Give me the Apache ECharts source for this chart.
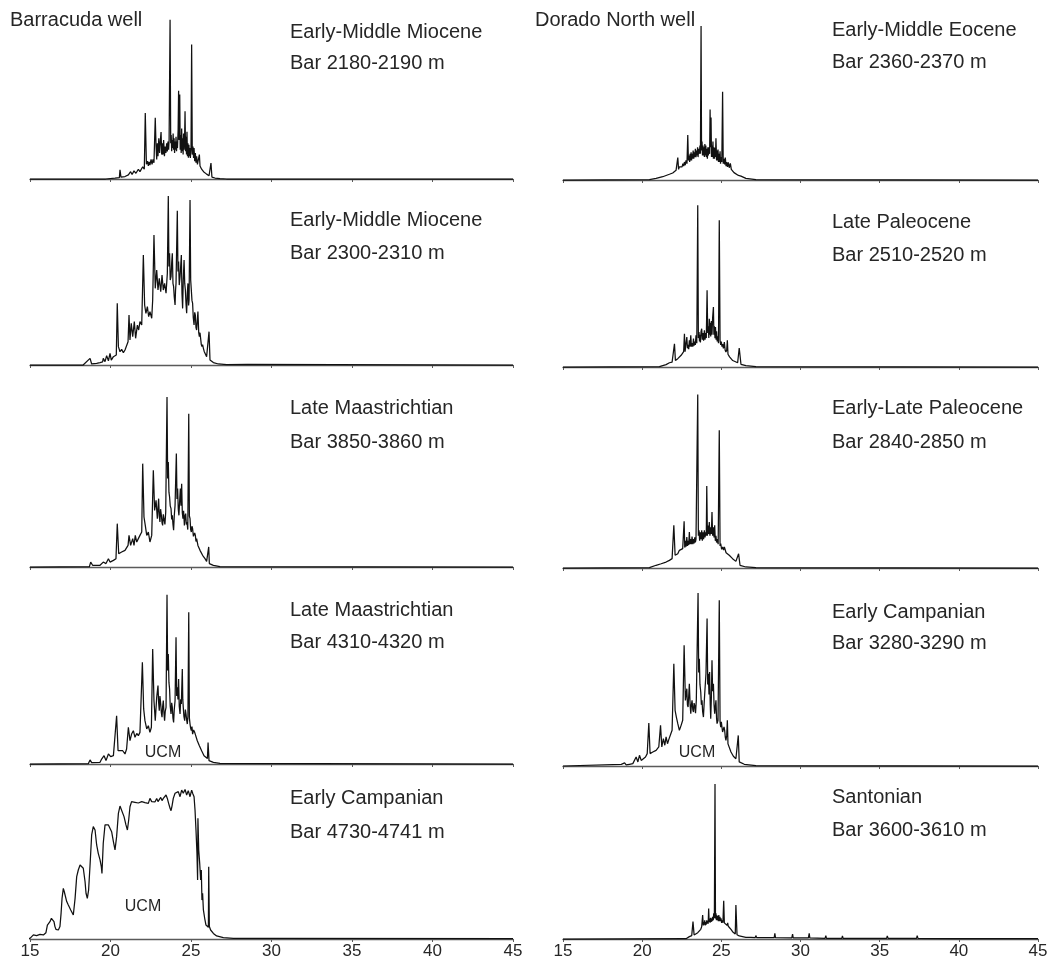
<!DOCTYPE html>
<html>
<head>
<meta charset="utf-8">
<title>Barracuda and Dorado North well chromatograms</title>
<script src="https://cdn.jsdelivr.net/npm/echarts@6.0.0/dist/echarts.min.js"></script>
<style>
  html, body { margin: 0; padding: 0; background: #fff; }
  #chart { width: 1063px; height: 965px; }
</style>
</head>
<body>
<div id="chart"></div>
<script>
// Retention time (min) axis ticks shared by every panel
const timeTicks = [15, 20, 25, 30, 35, 40, 45];

// Panel labels: well, age, sample depth
const wells = ['Barracuda well', 'Dorado North well'];
const barracudaAges = ['Early-Middle Miocene', 'Early-Middle Miocene', 'Late Maastrichtian', 'Late Maastrichtian', 'Early Campanian'];
const barracudaDepths = ['Bar 2180-2190 m', 'Bar 2300-2310 m', 'Bar 3850-3860 m', 'Bar 4310-4320 m', 'Bar 4730-4741 m'];
const doradoAges = ['Early-Middle Eocene', 'Late Paleocene', 'Early-Late Paleocene', 'Early Campanian', 'Santonian'];
const doradoDepths = ['Bar 2360-2370 m', 'Bar 2510-2520 m', 'Bar 2840-2850 m', 'Bar 3280-3290 m', 'Bar 3600-3610 m'];
const ucmLabel = 'UCM';

// Chromatogram traces: [retention time (min), relative abundance]
const barracuda2180 = [[15,0],[19.7,0],[20.28,0.5],[20.55,0.8],[20.59,5.7],[20.65,1.2],[20.9,1.5],[21.11,2.5],[21.25,4.5],[21.34,2.8],[21.46,5],[21.58,3.5],[21.73,6],[21.83,4.5],[22.0,7.5],[22.1,6],[22.16,40.6],[22.23,9],[22.3,11],[22.35,8],[22.4,10.5],[22.45,8.5],[22.52,12],[22.58,9],[22.64,12],[22.7,10],[22.78,37.6],[22.83,20],[22.87,12],[22.91,22],[22.95,14],[23.0,25],[23.05,16],[23.1,24],[23.14,28.8],[23.18,15],[23.22,22],[23.26,15],[23.3,24],[23.35,14],[23.39,20],[23.44,16],[23.49,22],[23.53,17],[23.57,23],[23.61,18],[23.64,24],[23.7,97.8],[23.74,22],[23.77,27],[23.8,17],[23.83,24],[23.86,19],[23.89,28],[23.92,18],[23.95,25],[23.98,16],[24.01,23],[24.04,18],[24.07,26],[24.1,17],[24.13,23],[24.16,19],[24.2,30],[24.23,54.3],[24.26,24],[24.3,52],[24.33,18],[24.36,27],[24.39,16],[24.42,31],[24.45,17],[24.48,25],[24.51,15],[24.54,28],[24.57,18],[24.6,24],[24.63,41.6],[24.66,17],[24.69,26],[24.72,15],[24.75,29],[24.78,14],[24.81,22],[24.84,13],[24.87,21],[24.9,14],[24.93,19],[24.96,13],[25.0,18],[25.04,82.7],[25.08,15],[25.12,20],[25.16,13],[25.19,19],[25.23,11],[25.27,16],[25.31,10],[25.35,14],[25.4,9],[25.46,12],[25.52,15],[25.56,8],[25.6,9],[25.66,6],[25.72,7],[25.78,4.5],[25.85,5],[25.97,3],[26.12,2],[26.21,1.5],[26.24,9.8],[26.3,1.2],[26.49,0.6],[26.8,0.2],[27.2,0],[45,0]];

const barracuda2300 = [[15,0],[18.3,0],[18.73,3.9],[18.83,0.6],[19.14,1.0],[19.35,1.4],[19.51,1.8],[19.55,3.9],[19.66,2.0],[19.76,5.5],[19.87,2.5],[19.97,6.9],[20.05,2.9],[20.18,4.9],[20.28,3.9],[20.36,5.9],[20.42,36.3],[20.49,10.8],[20.59,7.8],[20.69,9.2],[20.8,7.3],[20.9,8.8],[21.0,7.8],[21.09,13.7],[21.15,29.4],[21.21,14.7],[21.29,24.5],[21.38,16.7],[21.48,25.5],[21.56,15.7],[21.67,23.5],[21.75,20.6],[21.83,25.5],[21.94,23.5],[22.04,64.7],[22.12,35.3],[22.2,30.4],[22.29,34.3],[22.37,28.4],[22.45,31.4],[22.56,27.5],[22.62,38.2],[22.7,76.5],[22.78,45.1],[22.87,55.9],[22.95,44.1],[23.03,51.0],[23.12,43.1],[23.2,52.9],[23.28,44.1],[23.36,48.0],[23.45,42.2],[23.53,53.9],[23.59,99.4],[23.63,58],[23.67,65.7],[23.71,50],[23.76,52.0],[23.8,60],[23.84,65.7],[23.88,48],[23.92,46.1],[23.96,40],[24.01,35.3],[24.04,44],[24.07,48.0],[24.15,90.8],[24.19,55],[24.23,60.8],[24.27,47],[24.32,52.0],[24.36,58],[24.4,64.7],[24.44,42],[24.48,33.3],[24.52,50],[24.57,61.8],[24.61,48],[24.65,44.1],[24.69,36],[24.73,30.4],[24.77,42],[24.81,48.0],[24.85,35],[24.88,38.2],[24.94,97.1],[24.98,50],[25.02,44.1],[25.06,38],[25.1,36.3],[25.14,28],[25.19,23.5],[25.23,31],[25.27,29.4],[25.31,22],[25.35,20.6],[25.39,26],[25.43,31.4],[25.48,19],[25.52,16.7],[25.56,19],[25.6,18.6],[25.64,12],[25.68,10.8],[25.72,12],[25.77,9.8],[25.82,8],[25.87,6.9],[25.97,4.9],[26.06,3.9],[26.12,19.6],[26.18,2.9],[26.39,1.4],[26.7,0.6],[27.22,0.2],[28.5,0.3],[45,0]];

const barracuda3850 = [[15,0],[18.69,0.2],[18.77,2.9],[18.89,1.0],[19.35,1.0],[19.55,2.9],[19.72,2.0],[19.87,4.9],[19.97,2.9],[20.18,3.9],[20.34,4.9],[20.42,25.5],[20.51,7.8],[20.69,8.8],[20.9,9.8],[21.09,12.7],[21.15,18.6],[21.25,12.7],[21.38,16.7],[21.46,12.7],[21.54,18.6],[21.63,14.7],[21.73,16.7],[21.83,18.6],[21.94,20.6],[22.0,60.8],[22.08,29.4],[22.16,24.5],[22.25,18.6],[22.35,20.6],[22.45,14.7],[22.56,18.6],[22.66,56.9],[22.74,33.3],[22.83,39.2],[22.91,28.4],[22.99,40.2],[23.03,30],[23.07,26.5],[23.11,34],[23.16,30.4],[23.2,26],[23.24,24.5],[23.28,31],[23.32,28.4],[23.38,25],[23.43,32.4],[23.51,100],[23.55,52],[23.59,61.8],[23.63,44],[23.67,41.2],[23.71,36],[23.76,34.3],[23.8,28],[23.84,30.4],[23.88,25],[23.92,21.6],[23.96,30],[24.01,36.3],[24.09,66.7],[24.13,40],[24.17,46.1],[24.21,34],[24.25,30.4],[24.29,38],[24.34,46.1],[24.38,36],[24.42,49.0],[24.46,32],[24.5,28.4],[24.54,33],[24.59,24.5],[24.63,30],[24.67,31.4],[24.71,25],[24.75,26.5],[24.8,22],[24.86,90.2],[24.9,30],[24.94,28.4],[24.98,22],[25.02,20.6],[25.06,24],[25.1,22.5],[25.15,18],[25.19,17.6],[25.23,20],[25.27,18.6],[25.31,15],[25.35,16.7],[25.43,12.7],[25.56,9.8],[25.72,6.9],[25.87,4.9],[25.97,3.3],[26.06,2.9],[26.1,11.8],[26.14,2.0],[26.39,1.0],[26.8,0.2],[45,0]];

const barracuda4310 = [[15,0],[18.62,0.2],[18.73,2.4],[18.83,0.8],[19.35,1.0],[19.45,2.9],[19.55,2.0],[19.6,4.9],[19.72,2.0],[19.87,5.9],[20.01,4.3],[20.18,4.9],[20.3,5.9],[20.38,28.4],[20.47,7.8],[20.59,6.9],[20.76,7.8],[20.9,5.9],[21.0,8.8],[21.11,21.6],[21.21,13.7],[21.31,17.6],[21.42,19.6],[21.52,15.7],[21.63,18.0],[21.73,16.7],[21.83,18.6],[21.92,19.6],[21.98,59.8],[22.06,32.4],[22.14,25.5],[22.25,20.6],[22.35,22.5],[22.45,18.6],[22.54,21.6],[22.62,67.6],[22.7,37.3],[22.78,25.5],[22.87,39.2],[22.95,46.1],[22.99,36],[23.03,31.4],[23.07,40],[23.12,35.3],[23.16,30],[23.2,27.5],[23.24,34],[23.28,37.3],[23.32,30],[23.36,25.5],[23.4,31],[23.45,33.3],[23.51,99.6],[23.55,55],[23.59,64.7],[23.63,48],[23.67,44.1],[23.71,34],[23.76,29.4],[23.8,36],[23.84,33.3],[23.88,27],[23.92,24.5],[23.96,32],[24.01,37.3],[24.07,74.5],[24.11,40],[24.15,45.1],[24.19,38],[24.23,50.0],[24.27,34],[24.32,29.4],[24.36,38],[24.4,35.3],[24.46,55.9],[24.49,38],[24.52,33.3],[24.56,28],[24.61,25.5],[24.65,32],[24.69,29.4],[24.73,26],[24.77,23.5],[24.81,28],[24.86,89.2],[24.9,27],[24.94,23.5],[24.98,21],[25.02,19.6],[25.06,22],[25.1,17.6],[25.16,20],[25.23,18.6],[25.31,19.6],[25.39,13.7],[25.52,10.8],[25.66,7.8],[25.81,4.9],[25.93,3.9],[26.02,3.3],[26.06,12.7],[26.12,2.0],[26.39,1.0],[26.8,0.4],[45,0]];

const barracuda4730 = [[14.6,0.2],[15.0,0.4],[15.21,2.4],[15.31,1.4],[15.41,2.0],[15.52,1.6],[15.62,2.7],[15.72,2.0],[15.83,2.4],[15.93,2.5],[15.99,3.7],[16.08,8.2],[16.16,9.2],[16.24,10.2],[16.33,12.2],[16.41,13.1],[16.49,10.2],[16.55,7.3],[16.61,5.7],[16.76,5.3],[16.86,7.3],[16.93,15.1],[16.99,23.9],[17.07,29.8],[17.13,27.8],[17.19,26.9],[17.28,22.0],[17.38,20.0],[17.44,21.0],[17.53,17.1],[17.61,16.1],[17.69,14.1],[17.8,23.9],[17.9,36.7],[18.0,40.6],[18.11,43.5],[18.21,42.5],[18.31,41.6],[18.42,33.7],[18.48,26.9],[18.56,23.9],[18.64,28.8],[18.73,43.5],[18.83,61.2],[18.93,66.1],[19.04,64.1],[19.14,55.3],[19.24,50.4],[19.35,46.5],[19.43,42.5],[19.47,38.6],[19.55,56.3],[19.66,67.1],[19.76,68.0],[19.87,67.1],[19.97,68.0],[20.07,63.1],[20.18,57.3],[20.28,52.4],[20.38,60.2],[20.49,73.9],[20.59,78.2],[20.71,77.5],[20.84,72.0],[20.96,67.1],[21.05,64.1],[21.13,70.0],[21.21,77.8],[21.31,80.8],[21.42,79.8],[21.52,80.4],[21.63,80.8],[21.73,80.0],[21.83,79.8],[21.94,80.8],[22.04,81.4],[22.14,80.2],[22.25,81.0],[22.35,79.8],[22.45,82.7],[22.56,80.8],[22.66,81.8],[22.76,80.6],[22.87,82.7],[22.95,80.8],[23.03,81.8],[23.12,83.3],[23.2,81.4],[23.28,82.7],[23.36,82.2],[23.45,84.7],[23.53,82.7],[23.61,79.8],[23.7,76.9],[23.76,75.5],[23.82,78.2],[23.9,82.7],[24.01,85.7],[24.11,84.7],[24.21,86.7],[24.32,83.7],[24.42,87.6],[24.52,85.7],[24.63,88.0],[24.73,84.7],[24.83,87.3],[24.94,83.7],[25.04,87.6],[25.12,85.3],[25.19,83.7],[25.25,75.9],[25.31,64.1],[25.37,50.4],[25.41,34.7],[25.43,71.0],[25.48,52.4],[25.54,44.5],[25.6,34.7],[25.64,40.6],[25.68,22.9],[25.72,26.9],[25.77,17.1],[25.85,12.2],[25.93,8.2],[26.02,7.3],[26.08,6.9],[26.1,42.5],[26.14,7.3],[26.22,5.3],[26.39,3.3],[26.59,1.8],[27.01,0.8],[27.63,0.4],[30,0.3],[45,0.2]];

const dorado2360 = [[15,0],[20.46,0.2],[20.88,1.0],[21.3,2.0],[21.72,3.5],[21.93,4.3],[22.05,5.5],[22.14,5.9],[22.2,7],[22.25,13.7],[22.3,6.5],[22.35,8],[22.41,7],[22.46,9],[22.52,8],[22.57,10],[22.62,8.5],[22.67,11],[22.72,9],[22.77,12],[22.83,10],[22.88,27.5],[22.92,12],[22.96,15],[23.0,11],[23.03,16],[23.06,12],[23.09,17],[23.12,12],[23.15,16],[23.19,13],[23.22,18],[23.26,13],[23.29,17],[23.32,14],[23.36,19],[23.4,14],[23.44,18],[23.47,15],[23.5,20],[23.53,14],[23.57,19],[23.61,16],[23.65,21],[23.68,16],[23.72,94.1],[23.75,18],[23.78,23.5],[23.81,15],[23.84,21],[23.87,15],[23.9,20],[23.93,14],[23.96,22],[23.99,15],[24.02,21],[24.05,14],[24.08,19],[24.12,13],[24.15,20],[24.18,15],[24.22,20],[24.26,16],[24.29,43.1],[24.32,20],[24.35,38.2],[24.38,14],[24.41,21],[24.44,14],[24.47,23.5],[24.5,13],[24.54,20],[24.57,13],[24.6,19.6],[24.63,14],[24.66,25.5],[24.7,12],[24.73,18],[24.76,12],[24.79,18.6],[24.82,11],[24.85,16],[24.88,11],[24.92,17.6],[24.95,10],[24.98,14],[25.03,11],[25.08,53.9],[25.12,10],[25.17,13],[25.21,9.5],[25.25,13.7],[25.3,8.5],[25.34,11],[25.39,8],[25.44,10.8],[25.5,7.5],[25.57,10.2],[25.63,6.5],[25.71,6.9],[25.8,4.5],[25.92,3.9],[26.08,2.8],[26.24,2.4],[26.55,1.0],[27.18,0.2],[45,0]];

const dorado2510 = [[15,0],[21.09,0.2],[21.2,1.0],[21.51,1.4],[21.72,2.5],[21.89,2.9],[21.97,3.3],[22.04,13.7],[22.1,3.9],[22.25,4.9],[22.35,5.9],[22.46,6.9],[22.56,7.8],[22.62,9],[22.67,19.6],[22.71,9],[22.73,10.8],[22.77,14],[22.82,17.6],[22.86,11],[22.9,13],[22.94,10.5],[22.98,15.7],[23.02,12],[23.07,18.6],[23.11,12],[23.15,14],[23.2,12],[23.24,16.7],[23.28,12.5],[23.32,15],[23.36,13],[23.4,18.6],[23.45,14],[23.51,95.1],[23.55,17],[23.59,20.6],[23.62,15],[23.65,19],[23.68,14.5],[23.72,21],[23.76,22.5],[23.8,16],[23.84,20],[23.88,15.5],[23.93,21.6],[23.97,16],[24.01,20],[24.05,17],[24.1,45.1],[24.14,20],[24.18,24],[24.21,17],[24.24,28.4],[24.27,19],[24.3,26],[24.33,18],[24.37,27],[24.41,19],[24.45,29],[24.5,35.3],[24.53,19],[24.56,24],[24.6,17],[24.63,23.5],[24.67,16],[24.7,21],[24.74,15],[24.77,18],[24.82,14],[24.87,86.3],[24.92,15.7],[24.96,13],[25.0,15],[25.04,12],[25.08,13.5],[25.13,11],[25.19,14.7],[25.24,10],[25.29,8.8],[25.34,10],[25.38,15.7],[25.42,7.5],[25.46,7.5],[25.52,6],[25.61,4.9],[25.72,3.8],[25.82,2.9],[26.03,2.5],[26.13,11.2],[26.24,1.6],[26.55,0.8],[27.18,0.2],[45,0]];

const dorado2840 = [[15,0],[20.46,0.2],[20.57,0.6],[20.88,1.6],[21.2,2.5],[21.51,3.5],[21.72,4.5],[21.89,5.5],[22.0,25.1],[22.08,7.5],[22.25,8.4],[22.35,10.4],[22.46,9.4],[22.56,11.4],[22.65,27.5],[22.69,12],[22.73,16],[22.77,12.5],[22.82,18.2],[22.86,13],[22.9,16],[22.94,13.5],[22.98,21.2],[23.02,14],[23.07,17],[23.11,14],[23.15,18.5],[23.2,14],[23.24,17],[23.28,14.5],[23.32,18],[23.36,15],[23.4,17],[23.45,16],[23.51,102],[23.55,19],[23.59,22.2],[23.63,16],[23.68,21],[23.72,17],[23.76,22.2],[23.8,16],[23.84,21],[23.88,17],[23.93,22.2],[23.97,18],[24.01,21],[24.05,19],[24.08,48.2],[24.12,19],[24.16,25],[24.2,20],[24.24,27.1],[24.28,19],[24.33,24],[24.37,20],[24.41,32.9],[24.45,19],[24.5,24],[24.54,18],[24.58,25.1],[24.62,16],[24.66,19],[24.7,15],[24.75,17],[24.8,14],[24.87,81.0],[24.92,13],[24.96,14.3],[25.02,11],[25.08,12.4],[25.14,10.5],[25.19,12.4],[25.25,13.3],[25.3,9],[25.34,9.4],[25.5,7.5],[25.71,5.5],[25.92,3.9],[26.03,3.1],[26.09,8.4],[26.18,1.6],[26.55,0.6],[27.18,0.2],[45,0]];

const dorado3280 = [[15,0],[18.68,1.0],[18.78,0.4],[18.89,1.8],[18.99,0.6],[19.2,1.0],[19.41,1.4],[19.52,2.4],[19.62,5.3],[19.73,2.4],[19.83,6.3],[19.94,3.3],[20.04,4.3],[20.21,5.3],[20.32,7.3],[20.42,25.3],[20.5,7.3],[20.67,8.2],[20.88,9.2],[21.05,11.2],[21.16,23.9],[21.24,11.2],[21.34,16.1],[21.43,12.2],[21.51,17.1],[21.6,13.1],[21.68,15.5],[21.81,19.0],[21.89,21.0],[22.0,60.2],[22.08,32.7],[22.16,28.8],[22.25,24.9],[22.35,21.0],[22.46,23.9],[22.56,26.9],[22.65,71.0],[22.73,38.6],[22.82,45.5],[22.86,36],[22.9,34.7],[22.94,41],[22.98,48.4],[23.03,36],[23.07,30.8],[23.11,36],[23.15,38.6],[23.2,33],[23.24,31.8],[23.28,37],[23.32,35.7],[23.37,31],[23.42,38.6],[23.53,101.8],[23.57,55],[23.61,63.1],[23.65,48],[23.7,43.5],[23.74,36],[23.78,38.6],[23.82,32],[23.87,28.8],[23.91,36],[23.95,42.5],[24.03,54.3],[24.1,86.7],[24.14,48],[24.18,54.3],[24.22,42],[24.26,55.3],[24.3,36],[24.33,27.8],[24.37,40],[24.41,62.2],[24.45,44],[24.5,48.4],[24.54,36],[24.58,30.8],[24.62,35],[24.66,38.6],[24.7,28],[24.73,24.9],[24.79,26.9],[24.87,97.5],[24.92,26],[24.96,22.9],[25.0,26],[25.04,22.9],[25.08,20],[25.13,19.0],[25.17,23],[25.21,21.0],[25.25,17],[25.29,15.1],[25.34,18],[25.38,26.9],[25.42,13],[25.46,12.2],[25.61,8.2],[25.76,5.7],[25.92,4.3],[26.01,3.3],[26.07,18.0],[26.13,2.4],[26.45,1.0],[27.18,0.2],[45,0]];

const dorado3600 = [[15,0],[22.77,0.2],[22.98,1.4],[23.13,2.0],[23.21,10.2],[23.28,2.4],[23.4,2.9],[23.51,3.7],[23.61,4.3],[23.7,5.7],[23.76,7.3],[23.82,14.1],[23.86,8],[23.89,10],[23.92,8.5],[23.95,11],[23.98,8],[24.01,10],[24.04,8.5],[24.08,11],[24.11,9],[24.14,10.5],[24.17,9],[24.2,18.0],[24.23,10],[24.26,12],[24.29,9.6],[24.33,12.5],[24.36,10],[24.39,12],[24.42,10.5],[24.45,13.1],[24.49,11],[24.52,15.1],[24.56,12.2],[24.6,91.2],[24.63,12],[24.66,15.1],[24.69,11],[24.72,14],[24.75,11],[24.78,13.5],[24.81,10.5],[24.84,14.1],[24.87,10.5],[24.91,13],[24.95,10.5],[24.98,12.2],[25.02,9.5],[25.06,11],[25.1,9.6],[25.15,22.5],[25.19,9.5],[25.23,10.5],[25.27,8.5],[25.31,10],[25.36,8],[25.4,9.5],[25.44,7.5],[25.5,7.6],[25.61,5.7],[25.71,4.3],[25.82,3.3],[25.88,2.9],[25.92,20.0],[25.99,2.5],[26.13,1.8],[26.34,1.4],[26.55,1.0],[26.87,1.0],[27.14,0.8],[27.18,2.0],[27.23,0.8],[28.34,0.8],[28.38,3.3],[28.42,0.8],[29.45,0.6],[29.5,2.9],[29.54,0.6],[30.5,0.6],[30.55,3.3],[30.59,0.6],[31.55,0.4],[31.6,2.0],[31.64,0.4],[32.61,0.4],[32.65,1.8],[32.69,0.4],[35.44,0.4],[35.48,1.8],[35.53,0.4],[37.33,0.4],[37.37,2.0],[37.42,0.4],[39.79,0.2],[45,0.2]];

// Column/row arrangement of the traces
const barracudaTraces = [barracuda2180, barracuda2300, barracuda3850, barracuda4310, barracuda4730];
const doradoTraces = [dorado2360, dorado2510, dorado2840, dorado3280, dorado3600];

// Layout (pixels)
const colLeft = [30, 563];
const colWidth = [483, 475];
const baselines = [[179, 365, 567, 764, 939], [180, 367, 568, 766, 939]];
const yMax = 110;
const plotH = 187;
const labelX = [290, 832];
const ageY = [[32, 220, 408, 610, 798], [30, 222, 408, 612, 797]];
const depthY = [[63, 253, 442, 642, 832], [62, 255, 442, 643, 830]];

const FONT = '"Liberation Sans", Arial, Helvetica, sans-serif';
const TEXT = '#262626';
const LABEL_SIZE = 20;

const grids = [], xAxes = [], yAxes = [], series = [], graphics = [];
const columns = [
  { traces: barracudaTraces, ages: barracudaAges, depths: barracudaDepths },
  { traces: doradoTraces, ages: doradoAges, depths: doradoDepths }
];

function label(text, x, y, size, align) {
  return { type: 'text', x: x, y: y, silent: true,
    style: { text: text, fontSize: size, fontFamily: FONT, fill: TEXT,
             textAlign: align || 'left', textVerticalAlign: 'middle' } };
}

columns.forEach((col, c) => {
  col.traces.forEach((trace, r) => {
    const idx = grids.length;
    const base = baselines[c][r];
    const bottomRow = r === col.traces.length - 1;
    grids.push({ left: colLeft[c], width: colWidth[c], top: base - plotH, height: plotH });
    xAxes.push({
      gridIndex: idx, type: 'value', min: timeTicks[0], max: timeTicks[timeTicks.length - 1], interval: 5,
      axisLine: { show: true, onZero: false, lineStyle: { color: '#5a5a5a', width: 1.3 } },
      axisTick: { show: true, length: 3, lineStyle: { color: '#5a5a5a', width: 1 } },
      axisLabel: { show: bottomRow, margin: 4, fontSize: 17, color: TEXT, fontFamily: FONT },
      splitLine: { show: false }
    });
    yAxes.push({ gridIndex: idx, type: 'value', min: 0, max: yMax, show: false, splitLine: { show: false } });
    series.push({
      type: 'line', xAxisIndex: idx, yAxisIndex: idx, data: trace,
      showSymbol: false, symbol: 'none', clip: false,
      lineStyle: { color: '#111111', width: 1.25 }, silent: true
    });
    graphics.push(label(col.ages[r], labelX[c], ageY[c][r], LABEL_SIZE));
    graphics.push(label(col.depths[r], labelX[c], depthY[c][r], LABEL_SIZE));
  });
});

// Well names
graphics.push(label(wells[0], 10, 20, LABEL_SIZE));
graphics.push(label(wells[1], 535, 20, LABEL_SIZE));

// Unresolved complex mixture labels
[[163, 753], [697, 753], [143, 907]].forEach(p => {
  graphics.push(label(ucmLabel, p[0], p[1], 16, 'center'));
});

const chart = echarts.init(document.getElementById('chart'), null, { renderer: 'canvas' });
chart.setOption({
  backgroundColor: '#ffffff',
  animation: false,
  grid: grids,
  xAxis: xAxes,
  yAxis: yAxes,
  series: series,
  graphic: graphics
});
</script>
</body>
</html>
